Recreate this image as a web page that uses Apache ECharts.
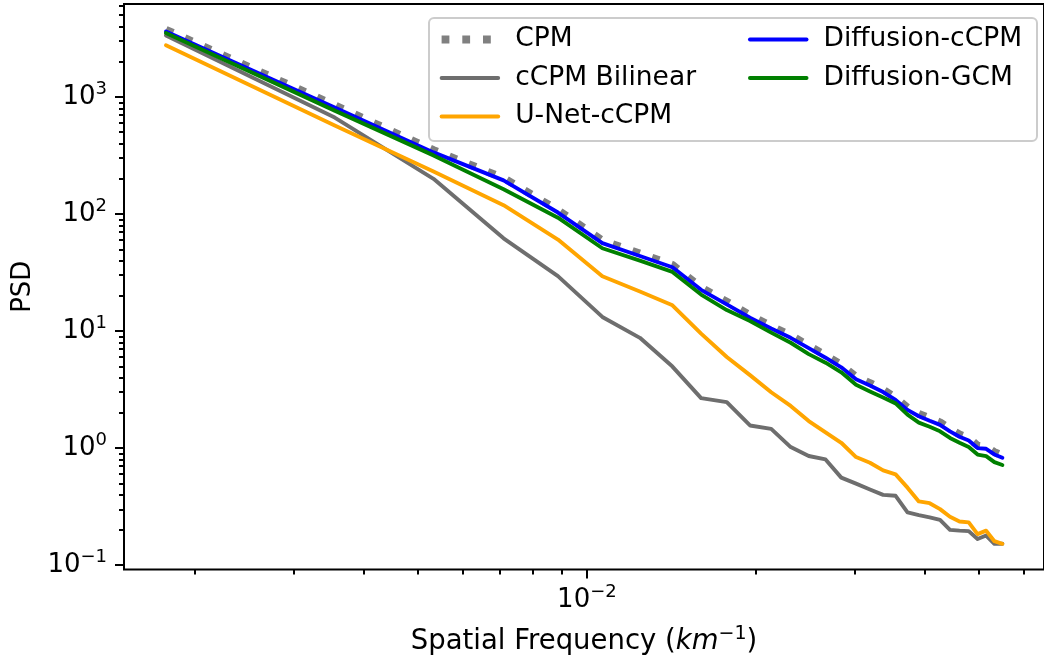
<!DOCTYPE html>
<html>
<head>
<meta charset="utf-8">
<title>PSD</title>
<script src="https://cdn.jsdelivr.net/npm/echarts@6.0.0/dist/echarts.min.js"></script>
<style>
  html, body { margin: 0; padding: 0; background: #fff; }
  #chart { width: 1044px; height: 661px; }
</style>
</head>
<body>
<div id="chart"></div>
<script>
/*
 * 功率谱密度 (PSD) 对比图, 双对数坐标
 */

// 空间频率 (km^-1)
var freq = [
  0.001776, 0.003551, 0.005327, 0.007102, 0.008878, 0.010653, 0.012429, 0.014205,
  0.015980, 0.017756, 0.019531, 0.021307, 0.023082, 0.024858, 0.026634, 0.028409,
  0.030185, 0.031960, 0.033736, 0.035511, 0.037287, 0.039063, 0.040838, 0.042614,
  0.044389, 0.046165, 0.047940, 0.049716, 0.051491, 0.053267, 0.055043
];

var cpm = [
  3760, 850, 352, 203, 108, 59.5, 46, 36.8, 23.6, 17.8, 13.7, 11.0, 9.2, 7.5, 6.2, 5.15,
  4.06, 3.6, 3.16, 2.7, 2.22, 1.96, 1.8, 1.66, 1.46, 1.31, 1.22, 1.05, 1.03, 0.925, 0.865
];
var bilinear = [
  3360, 667, 200, 62, 29.5, 13.2, 8.75, 4.97, 2.67, 2.47, 1.56, 1.46, 1.02, 0.855, 0.80, 0.559,
  0.497, 0.442, 0.398, 0.391, 0.282, 0.267, 0.256, 0.243, 0.200, 0.197, 0.195, 0.167, 0.179, 0.152, 0.152
];
var unet = [
  2770, 570, 231, 119, 60.5, 29.4, 21.8, 16.6, 9.5, 6.0, 4.2, 3.0, 2.29, 1.70, 1.36, 1.11,
  0.838, 0.750, 0.645, 0.596, 0.459, 0.350, 0.338, 0.301, 0.259, 0.236, 0.232, 0.184, 0.197, 0.160, 0.152
];
var diffCcpm = [
  3620, 811, 336, 194, 103, 56.5, 43.8, 35.1, 22.5, 16.9, 13.0, 10.5, 8.75, 7.14, 5.92, 4.90,
  3.87, 3.43, 3.01, 2.58, 2.12, 1.87, 1.71, 1.58, 1.39, 1.25, 1.16, 1.00, 0.986, 0.882, 0.826
];
var diffGcm = [
  3520, 765, 317, 163, 93, 51, 39.9, 32, 20.5, 15.1, 12.2, 9.7, 7.94, 6.35, 5.37, 4.44,
  3.47, 3.05, 2.71, 2.41, 1.93, 1.65, 1.52, 1.39, 1.22, 1.11, 1.02, 0.88, 0.853, 0.758, 0.717
];

// 刻度
var xMajor = [0.01];
var xMinor = [0.002, 0.003, 0.004, 0.005, 0.006, 0.007, 0.008, 0.009, 0.02, 0.03, 0.04, 0.05, 0.06];
var yMajor = [0.1, 1, 10, 100, 1000];
var yMinor = [
  0.2, 0.3, 0.4, 0.5, 0.6, 0.7, 0.8, 0.9,
  2, 3, 4, 5, 6, 7, 8, 9,
  20, 30, 40, 50, 60, 70, 80, 90,
  200, 300, 400, 500, 600, 700, 800, 900,
  2000, 3000, 4000, 5000, 6000
];

var FONT = 'DejaVu Sans';
var FS = 26;

/////////////// 工具 ////////////////////////
function pairs(ys) {
  return freq.map(function (f, i) {
    return [f, ys[i]];
  });
}

// 10 的幂标签, 上标
function powLabel(v) {
  var e = Math.round(Math.log10(v));
  var s = e < 0 ? '\u2212' + (-e) : '' + e;
  return '{b|10}{s|' + s + '}';
}

var rich = {
  b: { fontSize: FS, fontFamily: FONT, color: '#000' },
  s: { fontSize: 18, fontFamily: FONT, color: '#000', padding: [0, 0, 16, 0] }
};

function lineSeries(name, data, color, extra) {
  var ls = { color: color, width: 3.9, join: 'round', cap: 'round' };
  if (extra) {
    for (var k in extra) ls[k] = extra[k];
  }
  return {
    name: name,
    type: 'line',
    data: pairs(data),
    symbol: 'none',
    showSymbol: false,
    silent: true,
    itemStyle: { color: color },
    lineStyle: ls
  };
}

function logAxis(min, max, pos, ticks, tickLen, labels) {
  return {
    type: 'log',
    logBase: 10,
    min: min,
    max: max,
    position: pos,
    axisLine: { show: false },
    splitLine: { show: false },
    minorTick: { show: false },
    axisTick: {
      show: true,
      customValues: ticks,
      length: tickLen,
      lineStyle: { color: '#000', width: 2 }
    },
    axisLabel: labels
      ? { show: true, customValues: labels, formatter: powLabel, rich: rich, margin: 17 }
      : { show: false }
  };
}

var legendText = {
  fontSize: 26.5,
  fontFamily: FONT,
  color: '#000',
  lineHeight: 28,
  padding: [0, 0, 0, 12]
};

function legend(left, names) {
  return {
    orient: 'vertical',
    left: left,
    top: 25.5,
    padding: 0,
    itemWidth: 56.6,
    itemHeight: 14,
    itemGap: 10.5,
    selectedMode: false,
    data: names,
    textStyle: legendText,
    lineStyle: { width: 'inherit' },
    itemStyle: { opacity: 0 },
    z: 10
  };
}

var xMin = 0.001495, xMax = 0.0653;
var yMin = 0.0917, yMax = 6233;

var xName = logAxis(xMin, xMax, 'bottom', xMajor, 9, xMajor);
xName.axisLabel.margin = 14;
xName.name = '{a|Spatial Frequency (}{i|km}{s|\u22121}{a|)}';
xName.nameLocation = 'middle';
xName.nameGap = 55;
xName.nameTextStyle = {
  rich: {
    a: { fontSize: 27.5, fontFamily: FONT, color: '#000' },
    i: { fontSize: 27.5, fontFamily: FONT, fontStyle: 'italic', color: '#000' },
    s: { fontSize: 19, fontFamily: FONT, color: '#000', padding: [0, 0, 16, 0] }
  }
};

var yName = logAxis(yMin, yMax, 'left', yMajor, 9, yMajor);
yName.name = 'PSD';
yName.nameLocation = 'middle';
yName.nameGap = 88;
yName.nameTextStyle = { fontSize: FS, fontFamily: FONT, color: '#000' };

var option = {
  animation: false,
  backgroundColor: '#fff',
  grid: {
    left: 124,
    top: 4,
    right: -5.3,
    bottom: 88.6,
    show: true,
    borderColor: '#000',
    borderWidth: 2,
    backgroundColor: 'transparent'
  },
  xAxis: [xName, logAxis(xMin, xMax, 'bottom', xMinor, 5, null)],
  yAxis: [yName, logAxis(yMin, yMax, 'left', yMinor, 5, null)],
  legend: [
    legend(437.7, ['CPM', 'cCPM Bilinear', 'U-Net-cCPM']),
    legend(748, ['Diffusion-cCPM', 'Diffusion-GCM'])
  ],
  graphic: [{
    type: 'rect',
    left: 428,
    top: 17,
    z: 8,
    silent: true,
    shape: { width: 608, height: 123, r: 5 },
    style: { fill: 'rgba(255,255,255,0.8)', stroke: '#cccccc', lineWidth: 2 }
  }],
  series: [
    lineSeries('CPM', cpm, '#808080', { width: 7.8, type: [7.8, 12.9], cap: 'butt' }),
    lineSeries('cCPM Bilinear', bilinear, '#6e6e6e'),
    lineSeries('U-Net-cCPM', unet, '#ffa500'),
    lineSeries('Diffusion-cCPM', diffCcpm, '#0000ff'),
    lineSeries('Diffusion-GCM', diffGcm, '#008000')
  ]
};

var myEchart = echarts.init(document.getElementById('chart'));
myEchart.setOption(option);
</script>
</body>
</html>
